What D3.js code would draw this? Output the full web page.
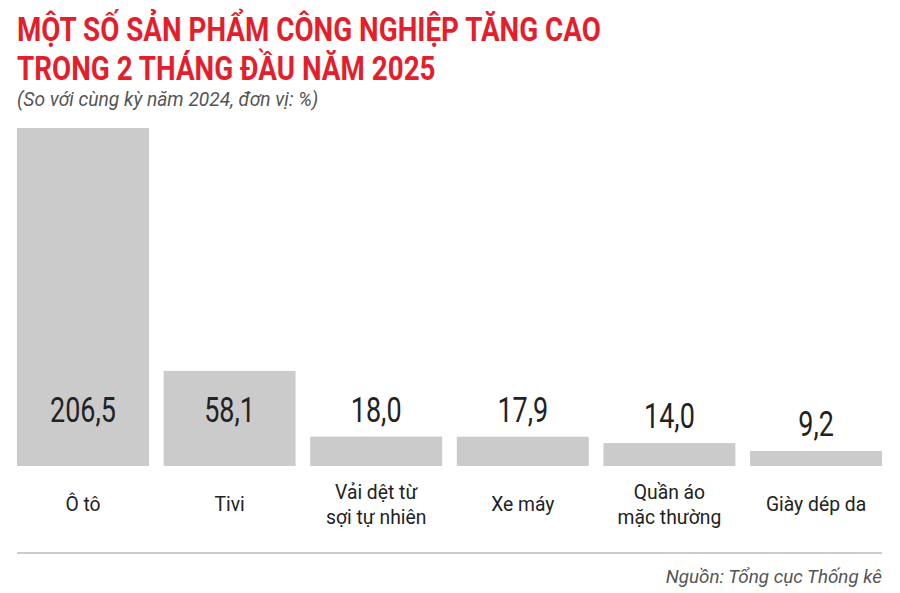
<!DOCTYPE html>
<html><head><meta charset="utf-8">
<script src="https://cdn.jsdelivr.net/npm/d3@7"></script>
<style>body{margin:0;background:#fff}svg{display:block}text{font-family:Roboto,"Noto Sans",sans-serif}</style>
</head><body>
<script>
const categories = [["Ô tô"], ["Tivi"], ["Vải dệt từ", "sợi tự nhiên"], ["Xe máy"], ["Quần áo", "mặc thường"], ["Giày dép da"]];
const values = [206.5, 58.1, 18.0, 17.9, 14.0, 9.2];
const valueLabels = ["206,5", "58,1", "18,0", "17,9", "14,0", "9,2"];
const titleLines = ["MỘT SỐ SẢN PHẨM CÔNG NGHIỆP TĂNG CAO", "TRONG 2 THÁNG ĐẦU NĂM 2025"];
const subtitle = "(So với cùng kỳ năm 2024, đơn vị: %)";
const source = "Nguồn: Tổng cục Thống kê";

const W = 900, H = 593, SX = 0.8;
const svg = d3.select("body").append("svg").attr("width", W).attr("height", H);

function ctext(x, y, str, opts) {
  const t = svg.append("text")
    .attr("transform", `translate(${x},${y}) scale(${opts.sx || SX},1)`)
    .attr("text-anchor", opts.anchor || "start")
    .attr("font-size", opts.size)
    .attr("font-weight", opts.weight || 400)
    .attr("font-style", opts.style || "normal")
    .attr("fill", opts.fill || "#222")
    .text(str);
  return t;
}

titleLines.forEach((l, i) => ctext(17, 41 + i * 39, l, {size: 33, weight: 700, fill: "#e31f2d", sx: 0.843}));
ctext(17, 106, subtitle, {size: 20, style: "italic", fill: "#555", sx: 0.96});

const x = d3.scaleBand().domain(d3.range(values.length)).range([17, 882]).paddingInner(0.1).paddingOuter(0);
const baseY = 466;
const y = d3.scaleLinear().domain([0, 206.5]).range([baseY, 128]);

svg.selectAll("rect.bar").data(values).join("rect")
  .attr("class", "bar")
  .attr("x", (d, i) => x(i)).attr("width", x.bandwidth())
  .attr("y", d => y(d)).attr("height", d => baseY - y(d))
  .attr("fill", "#cccbcc");

values.forEach((v, i) => {
  const cx = x(i) + x.bandwidth() / 2;
  const top = y(v);
  const ly = (baseY - top) > 60 ? 422 : top - 15;
  ctext(cx, ly, valueLabels[i], {size: 35, anchor: "middle", fill: "#222", sx: 0.77});
  const lines = categories[i];
  const startY = lines.length === 1 ? 511 : 499;
  lines.forEach((l, j) => ctext(cx, startY + j * 25, l, {size: 21, anchor: "middle", fill: "#222", sx: 0.92}));
});

svg.append("line").attr("x1", 17).attr("x2", 882).attr("y1", 553).attr("y2", 553)
  .attr("stroke", "#cccccc").attr("stroke-width", 2);
ctext(882, 583, source, {size: 19, style: "italic", fill: "#555", anchor: "end", sx: 0.99});
</script>
</body></html>
